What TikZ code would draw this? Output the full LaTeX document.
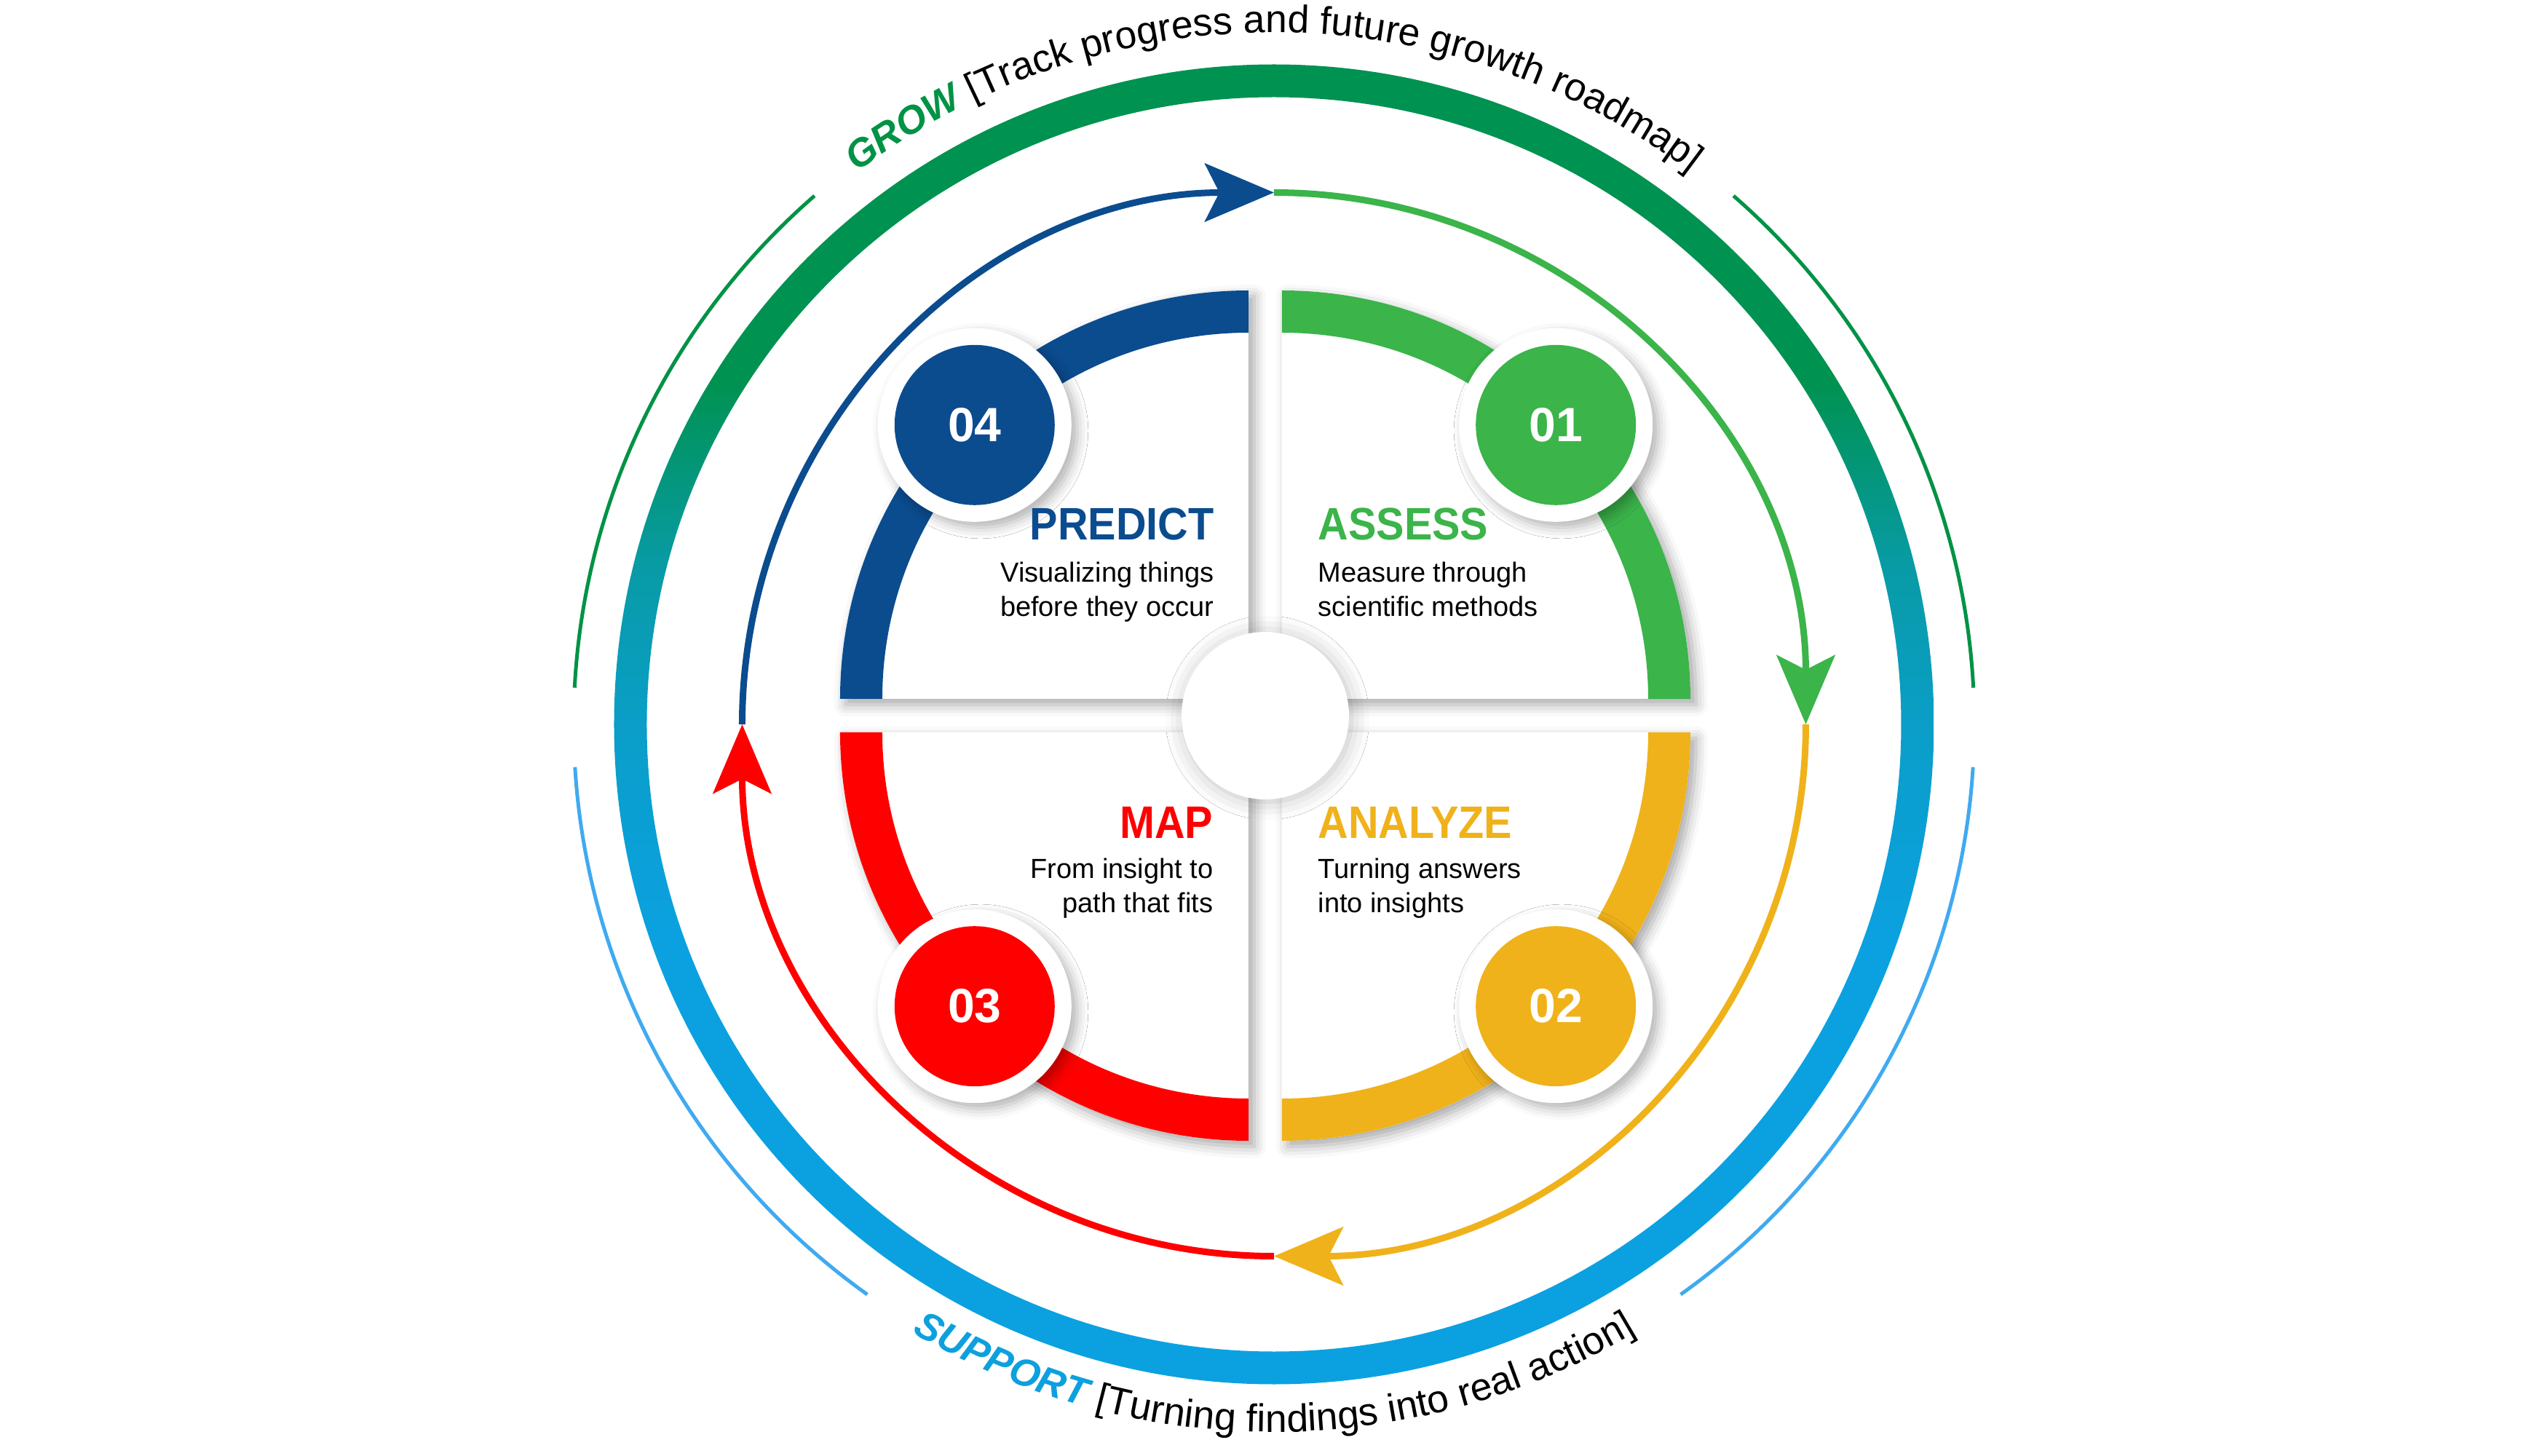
\documentclass[tikz,border=0pt]{standalone}
\usepackage{fontspec}
\setmainfont{Liberation Sans}
\newfontfamily\headfont[FakeStretch=0.92]{Liberation Sans}
\usetikzlibrary{arrows.meta,decorations.text,shadows.blur}

\definecolor{cblue}{RGB}{11,76,143}
\definecolor{cgreen}{RGB}{59,180,74}
\definecolor{cred}{RGB}{255,0,0}
\definecolor{cyellow}{RGB}{240,178,26}
\definecolor{ringgreen}{RGB}{0,146,80}
\definecolor{ringteal}{RGB}{8,155,165}
\definecolor{ringmid}{RGB}{10,158,200}
\definecolor{ringblue}{RGB}{11,161,224}
\definecolor{growgreen}{RGB}{0,146,69}
\definecolor{thinblue}{RGB}{64,170,240}
\definecolor{supportblue}{RGB}{13,160,222}

\pgfdeclareverticalshading{ringshade}{100bp}{color(0bp)=(ringblue); color(42bp)=(ringblue); color(50bp)=(ringmid); color(56bp)=(ringteal); color(63bp)=(ringgreen); color(100bp)=(ringgreen)}

\newcommand\curvfont{\fontsize{15.2pt}{17pt}\selectfont}

\tikzset{
  quarter/.style={fill=white, blur shadow={shadow xshift=0.8mm, shadow yshift=-0.8mm, shadow blur radius=1.6mm, shadow opacity=35}},
  halo/.style={circle, fill=white, minimum size=2.66cm, inner sep=0pt, blur shadow={shadow xshift=0.8mm, shadow yshift=-0.8mm, shadow blur radius=1.5mm, shadow opacity=30}},
  numdot/.style={circle, minimum size=2.2cm, inner sep=0pt, text=white, font=\fontsize{18.8pt}{20pt}\selectfont\bfseries},
  headtext/.style={inner sep=0pt, font=\headfont\fontsize{17.8pt}{20pt}\selectfont\bfseries},
  bodytext/.style={inner sep=0pt, font=\fontsize{10.8pt}{13pt}\selectfont},
  cyclearrow/.style={line width=0.9mm, -{Stealth[length=9.5mm, width=8mm, inset=2mm]}},
  rimarc/.style={line width=0.5mm}
}

\begin{document}
\begin{tikzpicture}
      \useasboundingbox (-17.5,-10.05) rectangle (17.5,9.95);
      % outer ring and thin arcs
      \shade[shading=ringshade, even odd rule] (0,0) circle (9.065) (0,0) circle (8.615);
      \draw[rimarc, growgreen] (131:9.62) arc[start angle=131, end angle=177, radius=9.62];
      \draw[rimarc, growgreen] (49:9.62) arc[start angle=49, end angle=3, radius=9.62];
      \draw[rimarc, thinblue] (183.5:9.62) arc[start angle=183.5, end angle=234.5, radius=9.62];
      \draw[rimarc, thinblue] (-3.5:9.62) arc[start angle=-3.5, end angle=-54.5, radius=9.62];
      \path[decorate, decoration={text along path, text align=center,
          text={|\curvfont\color{growgreen}\bfseries\itshape|GROW|\curvfont| [Track progress and future growth roadmap]}}]
          (170:9.5) arc[start angle=170, end angle=10, radius=9.5];
      \path[decorate, decoration={text along path, text align=center,
          text={|\curvfont\color{supportblue}\bfseries\itshape|SUPPORT|\curvfont| [Turning findings into real action]}}]
          (190:9.72) arc[start angle=190, end angle=350, radius=9.72];

      % cycle arrows
      \foreach \a/\col in {180/cblue, 90/cgreen, 0/cyellow, -90/cred}
        \draw[cyclearrow, \col] (\a:7.305) arc[start angle=\a, delta angle=-90, radius=7.305];

      % quarter discs
      \foreach \cx/\cy/\a/\col in {0.11/0.35/0/cgreen, 0.11/-0.11/270/cyellow, -0.35/-0.11/180/cred, -0.35/0.35/90/cblue} {
        \pgfmathsetmacro\b{\a+90}
        \fill[quarter] (\cx,\cy) -- ++(\a:5.61) arc[start angle=\a, end angle=\b, radius=5.61] -- cycle;
        \fill[\col] (\cx,\cy) ++(\a:5.03) -- ++(\a:0.58) arc[start angle=\a, end angle=\b, radius=5.61]
          -- ++(\b:-0.58) arc[start angle=\b, end angle=\a, radius=5.03] -- cycle;
      }

      % number badges
      \coordinate (p01) at (3.872,4.112);
      \coordinate (p02) at (3.872,-3.872);
      \coordinate (p03) at (-4.112,-3.872);
      \coordinate (p04) at (-4.112,4.112);
      \foreach \p in {p01,p02,p03,p04}
        \node[halo] at (\p) {};
      \node[numdot, fill=cgreen] (n01) at (p01) {01};
      \node[numdot, fill=cyellow] (n02) at (p02) {02};
      \node[numdot, fill=cred] (n03) at (p03) {03};
      \node[numdot, fill=cblue] (n04) at (p04) {04};

      \node[circle, fill=white, minimum size=2.3cm, blur shadow={shadow xshift=0.3mm, shadow yshift=-0.3mm, shadow blur radius=2.5mm, shadow opacity=25}] (hub) at (-0.12,0.12) {};

      % labels
      \node[headtext, text=cblue, anchor=base east] (predict) at (-0.82,2.534) {PREDICT};
      \node[bodytext, anchor=base east] (predict1) at (-0.82,1.95) {Visualizing things};
      \node[bodytext, anchor=base east] (predict2) at ([yshift=-0.46cm]predict1.base east) {before they occur};
      \node[headtext, text=cgreen, anchor=base west] (assess) at (0.6,2.534) {ASSESS};
      \node[bodytext, anchor=base west] (assess1) at (0.6,1.95) {Measure through};
      \node[bodytext, anchor=base west] (assess2) at ([yshift=-0.46cm]assess1.base west) {scientific methods};
      \node[headtext, text=cred, anchor=base east] (map) at (-0.83,-1.564) {MAP};
      \node[bodytext, anchor=base east] (map1) at (-0.83,-2.12) {From insight to};
      \node[bodytext, anchor=base east] (map2) at ([yshift=-0.46cm]map1.base east) {path that fits};
      \node[headtext, text=cyellow, anchor=base west] (analyze) at (0.6,-1.564) {ANALYZE};
      \node[bodytext, anchor=base west] (analyze1) at (0.6,-2.12) {Turning answers};
      \node[bodytext, anchor=base west] (analyze2) at ([yshift=-0.46cm]analyze1.base west) {into insights};
\end{tikzpicture}
\end{document}
